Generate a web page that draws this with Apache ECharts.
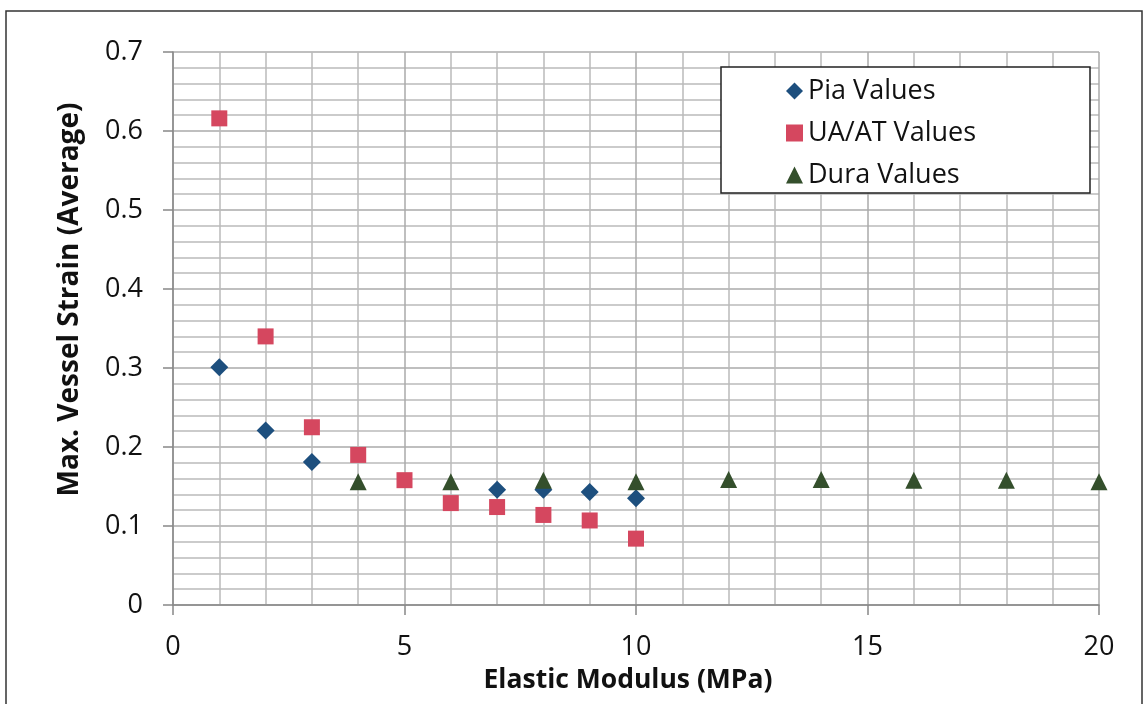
<!DOCTYPE html>
<html>
<head>
<meta charset="utf-8">
<script src="https://cdn.jsdelivr.net/npm/echarts@6/dist/echarts.min.js"></script>
<style>
  html, body { margin: 0; padding: 0; background: #fff; }
  #chart { width: 1145px; height: 704px; }
</style>
</head>
<body>
<div id="chart"></div>
<script>
// data
const piaX = [1, 2, 3, 7, 8, 9, 10]
const piaY = [0.301, 0.221, 0.181, 0.146, 0.146, 0.143, 0.135]
const uaX = [1, 2, 3, 4, 5, 6, 7, 8, 9, 10]
const uaY = [0.616, 0.340, 0.225, 0.190, 0.158, 0.129, 0.124, 0.114, 0.107, 0.084]
const duraX = [4, 6, 8, 10, 12, 14, 16, 18, 20]
const duraY = [0.156, 0.156, 0.158, 0.156, 0.159, 0.159, 0.158, 0.158, 0.156]
const seriesNames = ['Pia Values', 'UA/AT Values', 'Dura Values']

const pairs = (xs, ys) => xs.map((x, i) => [x, ys[i]])

const font = 'Open Sans'
const myChart = echarts.init(document.getElementById('chart'))

const option = {
  animation: false,
  backgroundColor: '#fff',
  textStyle: { fontFamily: font },
  grid: { left: 173, right: 46, top: 52, bottom: 99 },
  graphic: [
    {
      type: 'rect', z: -1,
      shape: { x: 6, y: 11, width: 1136, height: 740 },
      style: { fill: 'none', stroke: '#333', lineWidth: 1.5 }
    },
    {
      type: 'rect', z: 5,
      shape: { x: 721, y: 67, width: 369, height: 126 },
      style: { fill: '#fff', stroke: '#222', lineWidth: 1.5 }
    }
  ],
  legend: {
    orient: 'vertical',
    left: 781,
    top: 70,
    z: 6,
    itemWidth: 17,
    itemHeight: 17,
    itemGap: 10,
    data: seriesNames,
    textStyle: { fontSize: 27, color: '#111', fontFamily: font, lineHeight: 32 }
  },
  xAxis: {
    type: 'value',
    min: 0, max: 20, interval: 5,
    name: 'Elastic Modulus (MPa)',
    nameLocation: 'middle',
    nameGap: 62,
    nameTextStyle: { fontSize: 26.5, fontWeight: 'bold', color: '#111', padding: [0, 16, 0, 0] },
    axisLine: { show: true, lineStyle: { color: '#888', width: 1.5 } },
    axisTick: { show: true, length: 10, lineStyle: { color: '#888', width: 1.5 } },
    axisLabel: { fontSize: 27, color: '#111', margin: 29 },
    splitLine: { show: true, lineStyle: { color: '#aaa', width: 1.5 } },
    minorTick: { show: false, splitNumber: 5 },
    minorSplitLine: { show: true, lineStyle: { color: '#bbb', width: 1.5 } }
  },
  yAxis: {
    type: 'value',
    min: 0, max: 0.7, interval: 0.1,
    name: 'Max. Vessel Strain (Average)',
    nameLocation: 'middle',
    nameGap: 89,
    nameTextStyle: { fontSize: 28, fontWeight: 'bold', color: '#111', padding: [0, 0, 0, 58] },
    axisLine: { show: true, lineStyle: { color: '#888', width: 1.5 } },
    axisTick: { show: true, length: 10, lineStyle: { color: '#888', width: 1.5 } },
    axisLabel: { fontSize: 27, color: '#111', margin: 30 },
    splitLine: { show: true, lineStyle: { color: '#aaa', width: 1.5 } },
    minorTick: { show: false, splitNumber: 5 },
    minorSplitLine: { show: true, lineStyle: { color: '#bbb', width: 1.5 } }
  },
  series: [
    {
      name: seriesNames[0],
      type: 'scatter',
      symbol: 'diamond',
      symbolSize: 18,
      itemStyle: { color: '#1D4F7E', opacity: 1 },
      data: pairs(piaX, piaY)
    },
    {
      name: seriesNames[1],
      type: 'scatter',
      symbol: 'rect',
      symbolSize: 16,
      itemStyle: { color: '#D5475F', opacity: 1 },
      data: pairs(uaX, uaY)
    },
    {
      name: seriesNames[2],
      type: 'scatter',
      symbol: 'triangle',
      symbolSize: 17,
      itemStyle: { color: '#344F2C', opacity: 1 },
      data: pairs(duraX, duraY)
    }
  ]
}

option && myChart.setOption(option)
</script>
</body>
</html>
